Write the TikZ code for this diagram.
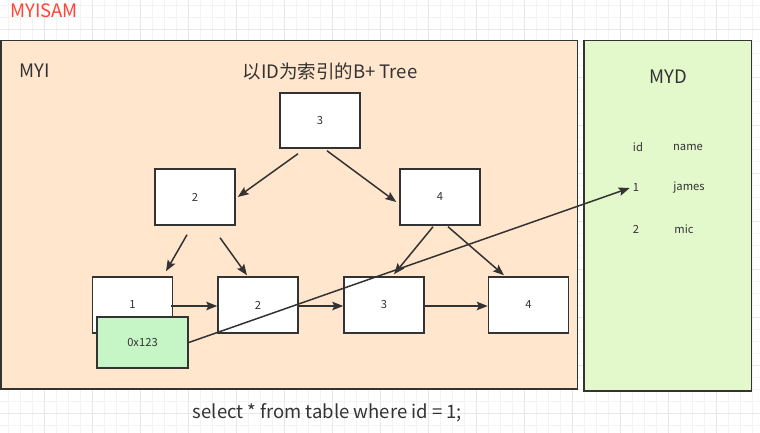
\documentclass[tikz,border=0pt]{standalone}
\usepackage{fontspec}
\setmainfont{Noto Sans CJK SC}
\usetikzlibrary{arrows.meta}
\definecolor{txt}{HTML}{333333}
\definecolor{ln}{HTML}{333333}
\definecolor{orangefill}{HTML}{FFE6CC}
\definecolor{mydfill}{HTML}{E3F8CB}
\definecolor{greenbox}{HTML}{C6F5C6}
\definecolor{redtxt}{HTML}{FF4433}
\definecolor{gridminor}{HTML}{F3F3F3}
\definecolor{gridmajor}{HTML}{E8E8E8}
\tikzset{
  treebox/.style={draw=ln, line width=1.5pt, fill=white, minimum width=80pt, minimum height=56pt, inner sep=0pt, font=\fontsize{11.2pt}{13pt}\selectfont, text=txt},
  arr/.style={draw=ln, line width=1.5pt, -{Stealth[length=11pt,width=8.5pt,inset=2pt]}},
  bigtxt/.style={font=\fontsize{18.5pt}{21pt}\selectfont, text=txt, inner sep=0pt},
  smalltxt/.style={font=\fontsize{11.2pt}{13pt}\selectfont, text=txt, inner sep=0pt},
}
\begin{document}
\begin{tikzpicture}[x=1pt,y=-1pt]
\useasboundingbox (0,0) rectangle (760,433);
\fill[white] (0,0) rectangle (760,433);
% grid
\foreach \x in {8.5,20.5,...,760} \draw[gridminor, line width=0.9pt] (\x,0) -- (\x,433);
\foreach \y in {5.7,17.7,...,433} \draw[gridminor, line width=0.9pt] (0,\y) -- (760,\y);
\foreach \x in {44.5,92.5,...,760} \draw[gridmajor, line width=0.9pt] (\x,0) -- (\x,433);
\foreach \y in {29.7,77.7,...,433} \draw[gridmajor, line width=0.9pt] (0,\y) -- (760,\y);

\node[font=\fontsize{18.5pt}{21pt}\selectfont, text=redtxt, inner sep=0pt] (title) at (44,11) {MYISAM};

% containers
\draw[ln, line width=1.5pt, fill=orangefill] (0.8,40.5) rectangle (577.5,389);
\draw[ln, line width=1.5pt, fill=mydfill] (584,40.5) rectangle (751.5,391);

\node[bigtxt] (myi) at (35,71) {MYI};
\node[bigtxt] (treetitle) at (330,71) {以ID为索引的B+ Tree};
\node[bigtxt] (myd) at (668,77) {MYD};

% tree nodes
\node[treebox, minimum height=55pt] (n3) at (320,120.5) {3};
\node[treebox] (n2) at (195,197) {2};
\node[treebox] (n4) at (440,197) {4};
\node[treebox] (l1) at (132.5,305) {1};
\node[treebox] (l2) at (258,305) {2};
\node[treebox] (l3) at (384,305) {3};
\node[treebox] (l4) at (528.5,305) {4};
\node[treebox, fill=greenbox, minimum width=91pt, minimum height=51pt] (g) at (142.5,342.5) {0x123};

% MYD table
\node[smalltxt] (hid) at (638,147) {id};
\node[smalltxt] (hname) at (688,147) {name};
\node[smalltxt] (r1) at (636,188) {1};
\node[smalltxt] (r1n) at (689,188) {james};
\node[smalltxt] (r2) at (636,229) {2};
\node[smalltxt] (r2n) at (684,229) {mic};

% tree arrows
\draw[arr] ([xshift=-22pt,yshift=-5pt]n3.south) -- ([xshift=2pt]n2.east);
\draw[arr] ([xshift=7pt,yshift=-2pt]n3.south) -- ([xshift=-3pt,yshift=-5pt]n4.west);
\draw[arr] ([xshift=-8pt,yshift=-9pt]n2.south) -- ([xshift=33.5pt,yshift=5pt]l1.north);
\draw[arr] ([xshift=25pt,yshift=-12pt]n2.south) -- ([xshift=-11pt,yshift=1pt]l2.north);
\draw[arr] ([xshift=-7pt,yshift=-1pt]n4.south) -- ([xshift=10pt,yshift=2pt]l3.north);
\draw[arr] ([xshift=8pt,yshift=-1pt]n4.south) -- ([xshift=-24.5pt,yshift=1pt]l4.north);
\draw[arr] ([xshift=-2pt,yshift=-1pt]l1.east) -- ([yshift=-1pt]l2.west);
\draw[arr] ([yshift=-1pt]l2.east) -- ([yshift=-1pt]l3.west);
\draw[arr] ([yshift=-1pt]l3.east) -- ([yshift=-1pt]l4.west);

% pointer arrow
\draw[arr] (g.east) -- ([xshift=-3pt]r1.west);

\node[bigtxt] (sql) at (327.5,413) {select * from table where id = 1;};
\end{tikzpicture}
\end{document}
